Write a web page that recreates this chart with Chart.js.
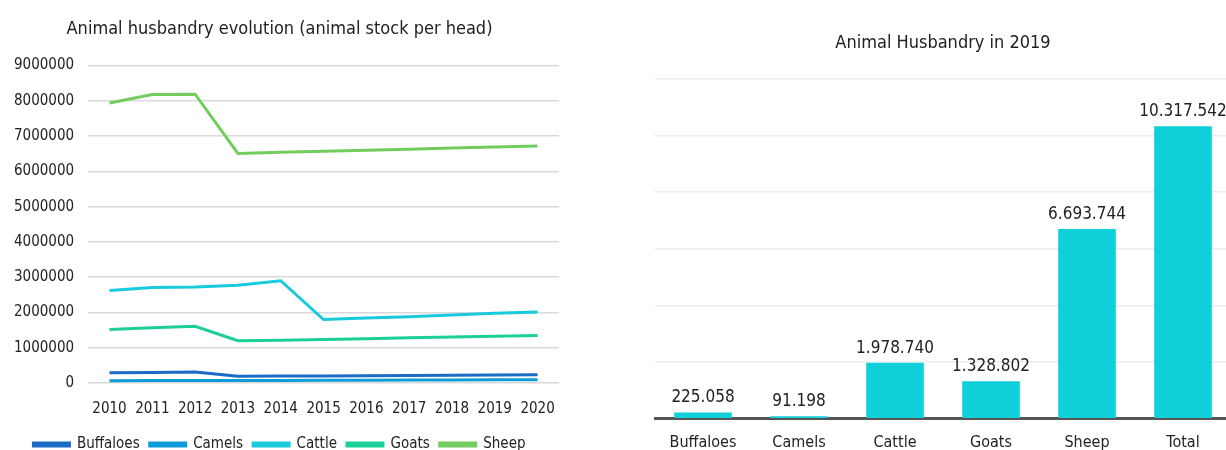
<!DOCTYPE html>
<html>
<head>
<meta charset="utf-8">
<script src="https://cdn.jsdelivr.net/npm/chart.js@4.4.1/dist/chart.umd.min.js"></script>
<style>
    html, body { margin: 0; padding: 0; background: #fff; overflow: hidden; width: 1226px; height: 450px; }
    #leftBox { position: absolute; left: 0; top: 0; width: 580px; height: 462px; }
    #rightBox { position: absolute; left: 600px; top: 0; width: 640px; height: 458px; }
</style>
</head>
<body>
<div id="leftBox"><canvas id="evolution_chart"></canvas></div>
<div id="rightBox"><canvas id="stock_2019"></canvas></div>
<script>
var years = ["2010","2011","2012","2013","2014","2015","2016","2017","2018","2019","2020"];
var buffaloes = [290000, 300000, 310000, 190000, 195000, 200000, 205000, 210000, 218000, 225058, 232000];
var camels = [65000, 68000, 72000, 70000, 74000, 77000, 80000, 83000, 87000, 91198, 95000];
var cattle = [2620000, 2710000, 2720000, 2770000, 2900000, 1800000, 1840000, 1880000, 1930000, 1978740, 2010000];
var goats = [1520000, 1570000, 1610000, 1200000, 1210000, 1230000, 1255000, 1280000, 1305000, 1328802, 1350000];
var sheep = [7940000, 8180000, 8190000, 6510000, 6540000, 6570000, 6600000, 6630000, 6660000, 6693744, 6720000];

var categories2019 = ["Buffaloes","Camels","Cattle","Goats","Sheep","Total"];
var values2019 = [225058, 91198, 1978740, 1328802, 6693744, 10317542];

var fontFam = "'Liberation Sans Narrow', 'DejaVu Sans Condensed', 'Arial Narrow', sans-serif";
Chart.defaults.font.family = fontFam;
Chart.defaults.color = '#222';

function dots(n) {
    return String(n).replace(/\B(?=(\d{3})+(?!\d))/g, ".");
}

function line(label, data, color) {
    return {
        "label": label,
        "data": data,
        "fill": false,
        "borderColor": color,
        "backgroundColor": color,
        "borderWidth": 3,
        "pointRadius": 0,
        "lineTension": 0
    };
}

new Chart(document.getElementById("evolution_chart"), {
    "type": "line",
    "data": {
        "labels": years,
        "datasets": [
            line("Buffaloes", buffaloes, '#1a6cc4'),
            line("Camels", camels, '#0e9cd9'),
            line("Cattle", cattle, '#17cbdc'),
            line("Goats", goats, '#1ccf98'),
            line("Sheep", sheep, '#72cd5e')
        ]
    },
    "options": {
        responsive: true,
        maintainAspectRatio: false,
        animation: false,
        layout: { padding: { left: 0, right: 21, top: 11, bottom: 0 } },
        scales: {
            y: {
                min: 0, max: 9000000,
                ticks: { stepSize: 1000000, font: { size: 15 }, padding: 14, callback: function(v) { return String(v); } },
                grid: { color: '#d9d9d9', lineWidth: 1.5, drawTicks: false },
                border: { display: false }
            },
            x: {
                offset: true,
                ticks: { font: { size: 15 }, padding: 9, maxRotation: 0 },
                grid: { display: false },
                border: { display: false }
            }
        },
        plugins: {
            title: { display: true, text: "Animal husbandry evolution (animal stock per head)", font: { size: 18, weight: 'normal' }, padding: { top: 8, bottom: 25 } },
            legend: {
                position: 'bottom',
                labels: { boxWidth: 36, boxHeight: 3, font: { size: 15 }, padding: 10 }
            },
            tooltip: { enabled: false }
        }
    }
});

var barLabels = {
    id: 'barLabels',
    afterDatasetsDraw: function(chart) {
        var ctx = chart.ctx;
        var meta = chart.getDatasetMeta(0);
        ctx.save();
        ctx.font = "17px " + fontFam;
        ctx.fillStyle = '#222';
        ctx.textAlign = 'center';
        ctx.textBaseline = 'bottom';
        meta.data.forEach(function(bar, i) {
            ctx.fillText(dots(values2019[i]), bar.x, bar.y - 6);
        });
        ctx.restore();
    }
};

new Chart(document.getElementById("stock_2019"), {
    "type": "bar",
    "data": {
        "labels": categories2019,
        "datasets": [{
            "label": "2019",
            "data": values2019,
            "backgroundColor": '#0fcfd8',
            "barPercentage": 0.6,
            "categoryPercentage": 1
        }]
    },
    "options": {
        responsive: true,
        maintainAspectRatio: false,
        animation: false,
        layout: { padding: { left: 55, right: 9, top: 13, bottom: 0 } },
        scales: {
            y: {
                min: 0, max: 12000000,
                ticks: { display: false, stepSize: 2000000 },
                grid: { color: '#ebebeb', lineWidth: 1.5, drawTicks: false },
                border: { display: false }
            },
            x: {
                ticks: { font: { size: 16 }, padding: 6 },
                grid: { display: false },
                border: { display: true, color: '#555', width: 3 }
            }
        },
        plugins: {
            title: { display: true, text: "Animal Husbandry in 2019", font: { size: 18, weight: 'normal' }, padding: { top: 20, bottom: 24 } },
            legend: { display: false },
            tooltip: { enabled: false }
        }
    },
    plugins: [barLabels]
});
</script>
</body>
</html>
